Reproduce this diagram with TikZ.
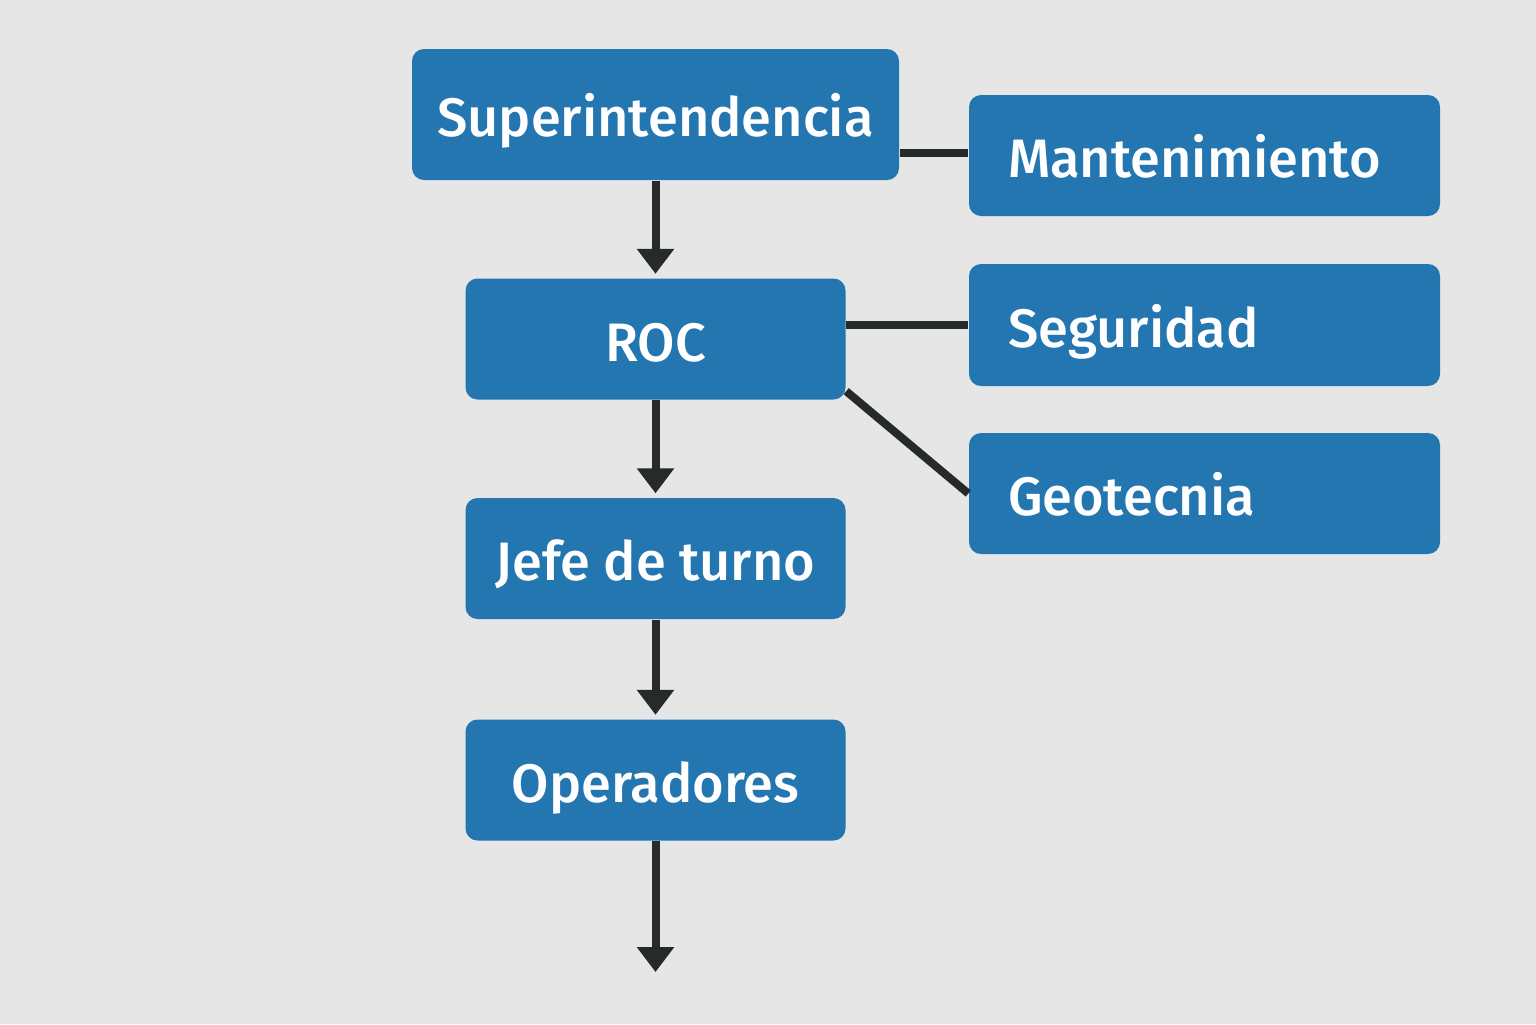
\documentclass[tikz,border=0pt]{standalone}
\usepackage{fontspec}
\setmainfont{Fira Sans}[BoldFont={Fira Sans Medium}]
\usepackage{tikz}
\usetikzlibrary{arrows.meta}

\definecolor{boxblue}{HTML}{2476B1}
\definecolor{linegray}{HTML}{262A2A}
\definecolor{bggray}{HTML}{E6E6E6}

\begin{document}
\begin{tikzpicture}[org_box/.style={rectangle,rounded corners=0.12cm,fill=boxblue,text=white,font=\fontsize{15.4}{19}\selectfont\bfseries,minimum height=1.21cm,inner sep=0pt,text height=0.54cm,text depth=0.10cm},
    side_box/.style={org_box,text width=3.93cm,inner xsep=0.39cm,align=left},
    link/.style={draw=linegray,line width=0.08cm},
    flow/.style={link,-{Triangle[width=0.36cm,length=0.25cm]},shorten >=0.04cm}]

    \fill[bggray] (0,0) rectangle (15.36,-10.24);

    \node[org_box,minimum width=4.87cm,minimum height=1.31cm] (sup) at (6.555,-1.145) {Superintendencia};
    \node[org_box,minimum width=3.80cm] (roc) at (6.555,-3.39) {ROC};
    \node[org_box,minimum width=3.80cm] (jefe) at (6.555,-5.585) {Jefe de turno};
    \node[org_box,minimum width=3.80cm] (oper) at (6.555,-7.80) {Operadores};

    \node[side_box] (mant) at (12.045,-1.555) {Mantenimiento};
    \node[side_box,minimum height=1.22cm] (seg) at (12.045,-3.25) {Seguridad};
    \node[side_box] (geo) at (12.045,-4.935) {Geotecnia};

    \coordinate (fin) at (6.555,-9.72);
    \coordinate (roc_c) at ([yshift=0.09cm]roc.south east);
    \coordinate (mant_l) at ([yshift=0.03cm]mant.west);

    \draw[flow] (sup) -- (roc);
    \draw[flow] (roc) -- (jefe);
    \draw[flow] (jefe) -- (oper);
    \draw[flow,shorten >=0pt] (oper) -- (fin);
    \draw[link] (mant_l) -- (mant_l -| sup.east);
    \draw[link] (seg.west) -- (seg.west -| roc.east);
    \draw[link] (roc_c) -- (geo.west);
\end{tikzpicture}
\end{document}
